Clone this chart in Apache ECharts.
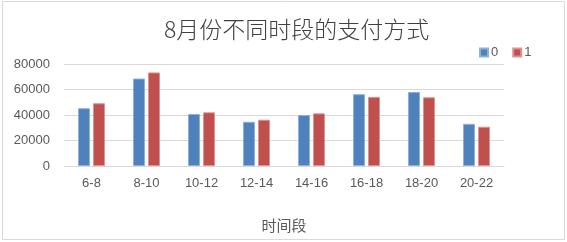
<!DOCTYPE html>
<html><head><meta charset="utf-8">
<script src="https://cdn.jsdelivr.net/npm/echarts@6/dist/echarts.min.js"></script>
<style>html,body{margin:0;padding:0;background:#fff}#c{width:567px;height:242px}</style>
</head><body><div id="c"></div>
<script>
const categories = ['6-8','8-10','10-12','12-14','14-16','16-18','18-20','20-22'];
const series0 = [45300, 68600, 40800, 34700, 40000, 56300, 58100, 33100];
const series1 = [49200, 73400, 42100, 36300, 41300, 54200, 53900, 30800];
const yTicks = [0, 20000, 40000, 60000, 80000];
const titleText = '8月份不同时段的支付方式';
const xName = '时间段';

const chart = echarts.init(document.getElementById('c'), null, {renderer:'canvas'});
const txt = '#595959';
chart.setOption({
  animation:false,
  graphic:[{type:'rect', shape:{x:2.5,y:1.5,width:562,height:238}, style:{fill:'none', stroke:'#d9d9d9', lineWidth:1}, silent:true}],
  title:{text:titleText, left:159, top:13, textStyle:{fontFamily:'Noto Sans CJK SC', fontSize:23, fontWeight:300, color:'#404040'}},
  legend:{left:474, top:41, itemWidth:8, itemHeight:8, itemGap:14, icon:'rect',
    textStyle:{fontFamily:'Liberation Sans', fontSize:13, color:txt, padding:[0,0,0,-2]},
    data:['0','1']},
  grid:{left:64, right:63, top:64, bottom:76, containLabel:false},
  xAxis:{type:'category', data:categories,
    axisLine:{lineStyle:{color:'#d9d9d9'}}, axisTick:{show:false},
    axisLabel:{fontFamily:'Liberation Sans', fontSize:13, color:txt, margin:11},
    name:xName, nameLocation:'middle', nameGap:52,
    nameTextStyle:{fontFamily:'Noto Sans CJK SC', fontSize:15, color:txt}},
  yAxis:{type:'value', min:yTicks[0], max:yTicks[yTicks.length-1], interval:20000,
    axisLine:{show:false}, axisTick:{show:false},
    splitLine:{lineStyle:{color:'#d9d9d9'}},
    axisLabel:{fontFamily:'Liberation Sans', fontSize:13, color:txt, margin:14, formatter:v=>String(v)}},
  series:[
    {name:'0', type:'bar', data:series0, barWidth:12, barGap:'25%',
     itemStyle:{color:'#4F81BD', borderColor:'#8fb0d8', borderWidth:1}},
    {name:'1', type:'bar', data:series1, barWidth:12, barGap:'25%',
     itemStyle:{color:'#C0504D', borderColor:'#dc9391', borderWidth:1}}
  ]
});
</script></body></html>
